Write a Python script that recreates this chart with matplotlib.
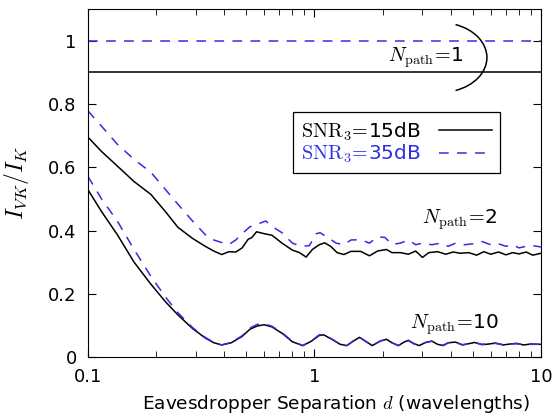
import numpy as np
import matplotlib
matplotlib.use("Agg")
import matplotlib.pyplot as plt
from matplotlib.patches import Arc

plt.rcParams['mathtext.fontset'] = 'cm'
plt.rcParams['font.family'] = 'DejaVu Sans'
plt.rcParams['lines.scale_dashes'] = False

# N_path = 1 (flat)
d_flat = [0.1, 10]
n1_15 = [0.9, 0.9]
n1_35 = [1.0, 1.0]

# N_path = 2
d_n2_15 = [0.10, 0.115, 0.135, 0.16, 0.19, 0.22, 0.25, 0.29, 0.33, 0.36, 0.39, 0.42,
           0.45, 0.48, 0.51, 0.53, 0.556, 0.60, 0.65, 0.72, 0.80, 0.86, 0.92, 0.98,
           1.05, 1.11, 1.18, 1.26, 1.35, 1.45, 1.60, 1.75, 1.9, 2.08, 2.2, 2.4, 2.6,
           2.8, 3.0, 3.2, 3.5, 3.8, 4.1, 4.4, 4.8, 5.2, 5.6, 6.0, 6.5, 7.0, 7.5, 8.0,
           8.6, 9.2, 10]
n2_15 = [0.696, 0.65, 0.604, 0.555, 0.514, 0.46, 0.41, 0.375, 0.35, 0.335, 0.324, 0.333,
         0.332, 0.345, 0.372, 0.378, 0.396, 0.39, 0.385, 0.36, 0.338, 0.33, 0.316, 0.34,
         0.355, 0.361, 0.35, 0.33, 0.324, 0.334, 0.334, 0.32, 0.335, 0.34, 0.33, 0.33, 0.325,
         0.335, 0.315, 0.33, 0.333, 0.325, 0.332, 0.328, 0.33, 0.322, 0.333, 0.325, 0.332,
         0.323, 0.33, 0.326, 0.332, 0.322, 0.328]

d_n2_35 = [0.10, 0.115, 0.135, 0.16, 0.19, 0.22, 0.25, 0.29, 0.33, 0.36, 0.39, 0.42,
           0.45, 0.48, 0.52, 0.56, 0.61, 0.66, 0.72, 0.80, 0.88, 0.95, 1.02, 1.06, 1.15,
           1.25, 1.35, 1.45, 1.6, 1.75, 1.9, 2.05, 2.2, 2.4, 2.6, 2.8, 3.0, 3.3, 3.6, 3.9,
           4.2, 4.6, 5.0, 5.5, 6.0, 6.5, 7.0, 7.5, 8.0, 8.6, 9.2, 10]
n2_35 = [0.779, 0.73, 0.673, 0.625, 0.584, 0.53, 0.483, 0.43, 0.387, 0.37, 0.362, 0.356,
         0.37, 0.39, 0.412, 0.42, 0.43, 0.41, 0.393, 0.36, 0.35, 0.352, 0.39, 0.393, 0.377,
         0.36, 0.355, 0.37, 0.371, 0.36, 0.38, 0.378, 0.356, 0.36, 0.37, 0.355, 0.36, 0.355,
         0.36, 0.35, 0.36, 0.355, 0.358, 0.365, 0.355, 0.358, 0.35, 0.355, 0.345, 0.35,
         0.352, 0.348]

# N_path = 10
d_n10 = [0.10, 0.115, 0.135, 0.16, 0.19, 0.22, 0.25, 0.29, 0.33, 0.36, 0.39, 0.43, 0.48,
         0.52, 0.56, 0.60, 0.65, 0.72, 0.80, 0.89, 0.97, 1.05, 1.10, 1.20, 1.30, 1.39,
         1.50, 1.58, 1.68, 1.80, 1.95, 2.08, 2.2, 2.35, 2.5, 2.6, 2.75, 2.9, 3.1, 3.3,
         3.5, 3.7, 3.9, 4.2, 4.5, 4.8, 5.1, 5.5, 5.9, 6.3, 6.8, 7.3, 7.8, 8.4, 9.0, 10]
n10_15 = [0.53, 0.46, 0.387, 0.30, 0.23, 0.175, 0.133, 0.09, 0.06, 0.045, 0.038, 0.045,
          0.065, 0.088, 0.098, 0.102, 0.095, 0.075, 0.048, 0.036, 0.05, 0.068, 0.07, 0.055,
          0.04, 0.036, 0.052, 0.062, 0.05, 0.036, 0.05, 0.056, 0.045, 0.036, 0.048, 0.052,
          0.042, 0.036, 0.046, 0.05, 0.04, 0.036, 0.045, 0.047, 0.038, 0.042, 0.046, 0.039,
          0.041, 0.044, 0.038, 0.041, 0.043, 0.038, 0.041, 0.04]
n10_35 = [0.572, 0.50, 0.43, 0.34, 0.255, 0.19, 0.14, 0.093, 0.062, 0.046, 0.038, 0.046,
          0.067, 0.092, 0.103, 0.105, 0.097, 0.077, 0.049, 0.036, 0.051, 0.07, 0.071, 0.056,
          0.04, 0.036, 0.053, 0.063, 0.05, 0.036, 0.05, 0.057, 0.045, 0.036, 0.048, 0.053,
          0.042, 0.036, 0.046, 0.05, 0.04, 0.037, 0.045, 0.046, 0.039, 0.041, 0.045, 0.04,
          0.042, 0.043, 0.039, 0.041, 0.042, 0.039, 0.04, 0.04]

blue = '#2f2fe0'
dash = (0, (7, 6))

fig = plt.figure(figsize=(5.52, 4.18), dpi=100)
ax = fig.add_axes([0.159, 0.146, 0.821, 0.832])

ax.plot(d_flat, n1_15, color='black', lw=1.1)
ax.plot(d_flat, n1_35, color=blue, lw=1.1, ls=dash)
ax.plot(d_n2_15, n2_15, color='black', lw=1.1, label=r'$\mathrm{SNR}_3\!=\!$15dB')
ax.plot(d_n2_35, n2_35, color=blue, lw=1.1, ls=dash, label=r'$\mathrm{SNR}_3\!=\!$35dB')
ax.plot(d_n10, n10_15, color='black', lw=1.1)
ax.plot(d_n10, n10_35, color=blue, lw=1.1, ls=dash)

ax.set_xscale('log')
ax.set_xlim(0.1, 10)
ax.set_ylim(0, 1.1)
ax.set_yticks([0, 0.2, 0.4, 0.6, 0.8, 1])
ax.set_yticklabels(['0', '0.2', '0.4', '0.6', '0.8', '1'])
ax.set_xticks([0.1, 1, 10])
ax.set_xticklabels(['0.1', '1', '10'])
ax.tick_params(which='both', direction='in', top=True, right=True, labelsize=13)
ax.tick_params(which='major', length=6)
ax.tick_params(which='minor', length=4)
ax.tick_params(axis='x', pad=8)
ax.tick_params(axis='y', pad=8)

ax.set_xlabel(r'Eavesdropper Separation $d$ (wavelengths)', fontsize=13.3)
ax.xaxis.set_label_coords(0.547, -0.105)
ax.set_ylabel(r'$I_{VK}/I_K$', fontsize=17)
ax.yaxis.set_label_coords(-0.125, 0.5)

leg = ax.legend(loc='upper right', bbox_to_anchor=(0.909, 0.704), markerfirst=False,
                fancybox=False, edgecolor='black', framealpha=1, fontsize=14.5,
                handlelength=2.6, borderpad=0.4, labelspacing=0.0, handletextpad=0.9,
                borderaxespad=0)
leg.get_frame().set_linewidth(0.9)
leg.get_texts()[1].set_color(blue)

ax.text(0.746, 0.861, r'$N_{\rm path}\!=\!$1', transform=ax.transAxes,
        ha='center', va='center', fontsize=14.5)
ax.text(0.821, 0.394, r'$N_{\rm path}\!=\!$2', transform=ax.transAxes,
        ha='center', va='center', fontsize=14.5)
ax.text(0.808, 0.092, r'$N_{\rm path}\!=\!$10', transform=ax.transAxes,
        ha='center', va='center', fontsize=14.5)
ax.add_patch(Arc((0.777, 0.861), 0.2075, 0.201, theta1=-70, theta2=70,
                 transform=ax.transAxes, color='black', lw=1.1))

fig.savefig('out.png', dpi=100)
